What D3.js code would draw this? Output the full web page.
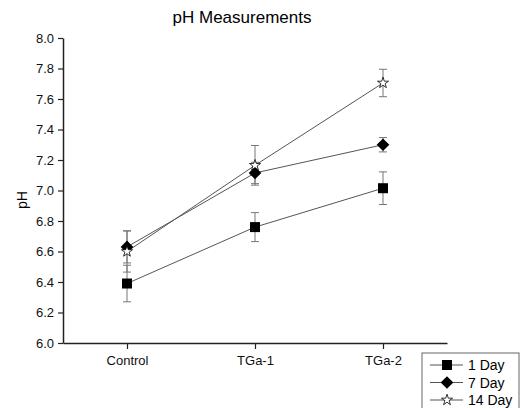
<!DOCTYPE html>
<html>
<head>
<meta charset="utf-8">
<script src="https://cdn.jsdelivr.net/npm/d3@7"></script>
<style>
  body { margin: 0; background: #fff; }
  svg { display: block; font-family: "Liberation Sans", Arial, sans-serif; }
</style>
</head>
<body>
<svg id="chart" width="526" height="408"></svg>
<script>
const categories = ['Control', 'TGa-1', 'TGa-2'];
const seriesNames = ['1 Day', '7 Day', '14 Day'];
const day1 = [6.39, 6.76, 7.015];
const day1Err = [0.12, 0.095, 0.107];
const day7 = [6.63, 7.115, 7.30];
const day7Err = [0.105, 0.07, 0.047];
const day14 = [6.60, 7.165, 7.705];
const day14Err = [0.135, 0.13, 0.09];
const yTicks = [6.0, 6.2, 6.4, 6.6, 6.8, 7.0, 7.2, 7.4, 7.6, 7.8, 8.0];

// square diamond (rotated square), equal width and height
const symbolRhomb = {
  draw(ctx, size) {
    const r = Math.sqrt(size / 2);
    ctx.moveTo(0, -r);
    ctx.lineTo(r, 0);
    ctx.lineTo(0, r);
    ctx.lineTo(-r, 0);
    ctx.closePath();
  }
};

const series = [
  { name: seriesNames[0], values: day1, err: day1Err, symbol: d3.symbolSquare, size: 100, fill: '#000' },
  { name: seriesNames[1], values: day7, err: day7Err, symbol: symbolRhomb, size: 80, fill: '#000' },
  { name: seriesNames[2], values: day14, err: day14Err, symbol: d3.symbolStar, size: 38, fill: '#fff' },
];

const svg = d3.select('#chart');
const x = d3.scalePoint().domain(categories).range([63, 447]).padding(0.5);
const y = d3.scaleLinear().domain([6.0, 8.0]).range([343, 38]);

// title
svg.append('text')
  .attr('x', 242).attr('y', 23)
  .attr('text-anchor', 'middle')
  .attr('font-size', 17)
  .text('pH Measurements');

// axes
const yAxis = svg.append('g')
  .attr('transform', 'translate(63,0)')
  .call(d3.axisLeft(y).tickValues(yTicks).tickFormat(d3.format('.1f')).tickSize(5).tickSizeOuter(0));
const xAxis = svg.append('g')
  .attr('transform', 'translate(0,343)')
  .call(d3.axisBottom(x).tickSize(6).tickSizeOuter(0));
[yAxis, xAxis].forEach(a => {
  a.select('.domain').attr('stroke', '#222').attr('stroke-width', 1.5);
  a.selectAll('.tick line').attr('stroke', '#222').attr('stroke-width', 1.2);
  a.selectAll('.tick text').attr('font-size', 13).attr('fill', '#111').attr('font-family', '"Liberation Sans", Arial, sans-serif');
});
yAxis.selectAll('.tick text').attr('x', -9);
xAxis.selectAll('.tick text').attr('y', 13);

svg.append('text')
  .attr('transform', 'translate(27,200) rotate(-90)')
  .attr('text-anchor', 'middle')
  .attr('font-size', 14)
  .text('pH');

const line = d3.line().x((d, i) => x(categories[i])).y(d => y(d));

// error bars
series.forEach(s => {
  const g = svg.append('g').attr('stroke', '#777').attr('stroke-width', 1);
  s.values.forEach((v, i) => {
    const cx = x(categories[i]);
    const lo = y(v - s.err[i]), hi = y(v + s.err[i]);
    g.append('line').attr('x1', cx).attr('x2', cx).attr('y1', lo).attr('y2', hi);
    g.append('line').attr('x1', cx - 4).attr('x2', cx + 4).attr('y1', lo).attr('y2', lo);
    g.append('line').attr('x1', cx - 4).attr('x2', cx + 4).attr('y1', hi).attr('y2', hi);
  });
});

// lines
series.forEach(s => {
  svg.append('path')
    .datum(s.values)
    .attr('d', line)
    .attr('fill', 'none')
    .attr('stroke', '#555')
    .attr('stroke-width', 1);
});

// markers
series.forEach(s => {
  svg.append('g').selectAll('path')
    .data(s.values)
    .join('path')
    .attr('transform', (d, i) => `translate(${x(categories[i])},${y(d)})`)
    .attr('d', d3.symbol(s.symbol, s.size))
    .attr('fill', s.fill)
    .attr('stroke', '#000')
    .attr('stroke-width', s.fill === '#fff' ? 0.8 : 0);
});

// legend
const legend = svg.append('g').attr('transform', 'translate(422,353)');
legend.append('rect')
  .attr('x', 0).attr('y', 0).attr('width', 97).attr('height', 60)
  .attr('fill', '#fff').attr('stroke', '#666').attr('stroke-width', 1);
series.forEach((s, i) => {
  const ly = 12 + i * 17.5;
  legend.append('line')
    .attr('x1', 8).attr('x2', 41).attr('y1', ly).attr('y2', ly)
    .attr('stroke', '#555').attr('stroke-width', 1);
  legend.append('path')
    .attr('transform', `translate(25,${ly})`)
    .attr('d', d3.symbol(s.symbol, s.size))
    .attr('fill', s.fill)
    .attr('stroke', '#000')
    .attr('stroke-width', s.fill === '#fff' ? 0.8 : 0);
  legend.append('text')
    .attr('x', 46).attr('y', ly + 5)
    .attr('font-size', 14)
    .text(s.name);
});
</script>
</body>
</html>
